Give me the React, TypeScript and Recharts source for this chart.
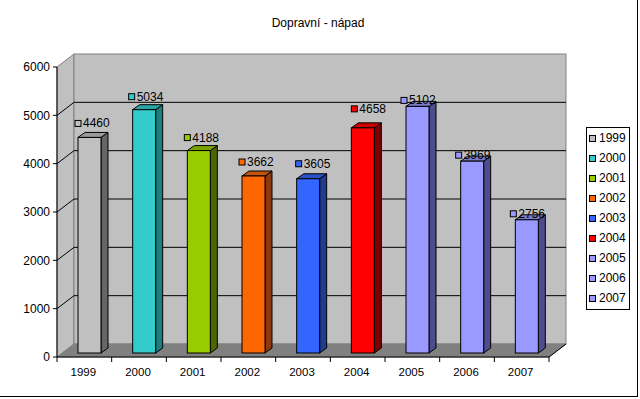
import React from 'react';
import { BarChart, Bar, XAxis, YAxis, ReferenceArea, LabelList } from 'recharts';

const title = 'Dopravní - nápad';
const years = ['1999', '2000', '2001', '2002', '2003', '2004', '2005', '2006', '2007'];
const values = [4460, 5034, 4188, 3662, 3605, 4658, 5102, 3969, 2756];
const yTicks = [0, 1000, 2000, 3000, 4000, 5000, 6000];
const yMax = 6000;

const frontColors = ['#C0C0C0', '#33CCCC', '#99CC00', '#FF6600', '#3366FF', '#FF0000', '#9999FF', '#9999FF', '#9999FF'];
const sideColors = ['#666666', '#1A7F7F', '#4D6600', '#8C3A0D', '#1F3C8F', '#800000', '#4D4D8C', '#4D4D8C', '#4D4D8C'];
const topColors = ['#9A9A9A', '#29A3A3', '#7AA300', '#C2540F', '#2B52C7', '#CC0000', '#7A7AC7', '#7A7AC7', '#7A7AC7'];
const labelLift = [10, 9, 9, 10, 11, 15, 2, 2, 2];
const labelDx = [-3, -4, -3, -3, -1, 0, -5, -5, -5];

const data = years.map((year, i) => ({ year, value: values[i] }));

const FONT = '"Liberation Sans", Arial, sans-serif';
const DX = 17; // wall depth x
const DY = 13; // wall depth y
const BX = 5; // bar offset into depth
const BY = 4;
const BDX = 7; // bar depth
const BDY = 5;

const Walls = (props: any) => {
  const { x, y, width, height } = props;
  const bottom = y + height;
  const gridYs = yTicks
    .filter((t) => t > 0 && t < yMax)
    .map((t) => y + height * (1 - t / yMax));
  return (
    <g>
      <polygon
        points={`${x},${y} ${x + DX},${y - DY} ${x + DX},${bottom - DY} ${x},${bottom}`}
        fill="#C0C0C0"
        stroke="#808080"
      />
      <rect x={x + DX} y={y - DY} width={width} height={height} fill="#C0C0C0" stroke="#808080" />
      <polygon
        points={`${x},${bottom} ${x + DX},${bottom - DY} ${x + width + DX},${bottom - DY} ${x + width},${bottom}`}
        fill="#808080"
        stroke="#808080"
      />
      {gridYs.map((gy, i) => (
        <g key={i}>
          <line x1={x} y1={gy} x2={x + DX} y2={gy - DY} stroke="#000" strokeWidth={1} />
          <line x1={x + DX} y1={gy - DY} x2={x + width + DX} y2={gy - DY} stroke="#000" strokeWidth={1} />
        </g>
      ))}
      <line x1={x + width} y1={bottom} x2={x + width + DX} y2={bottom - DY} stroke="#000" strokeWidth={1} />
    </g>
  );
};

const Bar3D = (props: any) => {
  const { x, y, width, height, index } = props;
  if (width == null || height == null) return null;
  const fx = x + BX;
  const fy = y - BY;
  const fb = fy + height;
  return (
    <g>
      <polygon
        points={`${fx + width},${fy} ${fx + width + BDX},${fy - BDY} ${fx + width + BDX},${fb - BDY} ${fx + width},${fb}`}
        fill={sideColors[index]}
        stroke="#000"
        strokeWidth={1}
      />
      <polygon
        points={`${fx},${fy} ${fx + BDX},${fy - BDY} ${fx + width + BDX},${fy - BDY} ${fx + width},${fy}`}
        fill={topColors[index]}
        stroke="#000"
        strokeWidth={1}
      />
      <rect x={fx} y={fy} width={width} height={height} fill={frontColors[index]} stroke="#000" strokeWidth={1} />
    </g>
  );
};

const BarLabel = (props: any) => {
  const { x, y, value, index } = props;
  const fx = x + BX;
  const fy = y - BY;
  const mb = fy - labelLift[index];
  const mx = fx + labelDx[index];
  return (
    <g>
      <rect x={mx} y={mb - 7} width={6} height={6} fill={frontColors[index]} stroke="#000" strokeWidth={1} />
      <text x={mx + 8} y={mb} fontSize={12} fontFamily={FONT} fill="#000">
        {value}
      </text>
    </g>
  );
};

const XTick = (props: any) => {
  const { x, y, payload, index } = props;
  const off = payload && payload.offset != null ? payload.offset : 27.33;
  return (
    <g>
      {index === 0 && <line x1={x - off} y1={y} x2={x - off} y2={y + 5} stroke="#000" />}
      <line x1={x + off} y1={y} x2={x + off} y2={y + 5} stroke="#000" />
      <text x={x - 1} y={y + 19} textAnchor="middle" fontSize={11.5} fontFamily={FONT} fill="#000">
        {payload.value}
      </text>
    </g>
  );
};

export default function App() {
  return (
    <div
      style={{
        position: 'absolute',
        left: 0,
        top: 0,
        width: 637,
        height: 396,
        borderRight: '1px solid #000',
        borderBottom: '1px solid #000',
        background: '#fff',
        overflow: 'visible',
      }}
    >
      <div
        style={{
          position: 'absolute',
          left: 0,
          top: 16,
          width: 636,
          textAlign: 'center',
          fontFamily: FONT,
          fontSize: 12,
          lineHeight: '14px',
          color: '#000',
        }}
      >
        {title}
      </div>
      <div style={{ position: 'absolute', left: 0, top: 0 }}>
        <BarChart width={640} height={399} data={data} margin={{ top: 67, right: 91, bottom: 12, left: 0 }}>
          <ReferenceArea y1={0} y2={yMax} ifOverflow="visible" shape={Walls} />
          <XAxis
            dataKey="year"
            height={30}
            tickLine={false}
            tickSize={0}
            tickMargin={0}
            axisLine={{ stroke: '#000' }}
            tick={XTick}
            interval={0}
          />
          <YAxis
            width={57}
            domain={[0, yMax]}
            ticks={yTicks}
            interval={0}
            tickSize={4}
            tickMargin={3}
            axisLine={{ stroke: '#000' }}
            tickLine={{ stroke: '#000' }}
            tick={{ fill: '#000', fontSize: 12, fontFamily: FONT }}
          />
          <Bar dataKey="value" barSize={23} isAnimationActive={false} shape={Bar3D}>
            <LabelList dataKey="value" content={BarLabel} />
          </Bar>
        </BarChart>
      </div>
      <div
        style={{
          position: 'absolute',
          left: 586,
          top: 127,
          width: 42,
          height: 181,
          border: '1px solid #000',
          background: '#fff',
          overflow: 'hidden',
          fontFamily: FONT,
          fontSize: 12,
          color: '#000',
        }}
      >
        {years.map((yr, i) => (
          <div
            key={yr}
            style={{
              position: 'absolute',
              left: 2,
              top: 3 + i * 20,
              height: 14,
              lineHeight: '14px',
              whiteSpace: 'nowrap',
              display: 'flex',
              alignItems: 'center',
            }}
          >
            <span
              style={{
                display: 'inline-block',
                width: 5,
                height: 5,
                border: '1px solid #000',
                background: frontColors[i],
                marginRight: 3,
              }}
            />
            <span>{yr}</span>
          </div>
        ))}
      </div>
    </div>
  );
}
